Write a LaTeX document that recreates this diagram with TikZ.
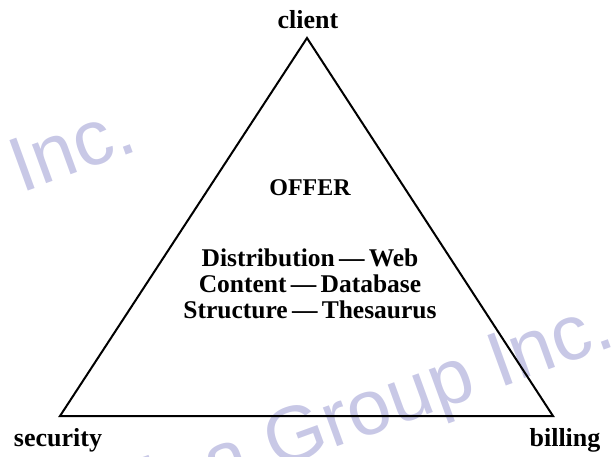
\documentclass[tikz,border=0pt]{standalone}
\usepackage{fontspec}
\setmainfont{Liberation Serif}
\newfontfamily\wmfont{Liberation Sans}
\definecolor{wm}{RGB}{200,200,230}
\begin{document}
\begin{tikzpicture}[x=1pt,y=-1pt,
  lbl/.style={font=\fontsize{26}{30}\selectfont\bfseries, inner sep=0pt},
  wmark/.style={font=\fontsize{78}{86}\selectfont\wmfont, text=wm, rotate=20, inner sep=0pt}]
\useasboundingbox (0,0) rectangle (611,456);
% watermark
\node[wmark, anchor=base east] (wm1) at (140,150) {Idea Group Inc.};
\node[wmark, anchor=base east] (wm2) at (618,345) {Idea Group Inc.};
% triangle
\coordinate (top) at (307,38);
\coordinate (bl) at (60,416);
\coordinate (br) at (553,416);
\draw[line width=2pt, line join=miter] (top) -- (bl) -- (br) -- cycle;
% labels
\node[lbl] (client) at (308,20) {client};
\node[lbl] (security) at (58,440) {security};
\node[lbl] (billing) at (565,440) {billing};
\node[lbl, font=\fontsize{24}{28}\selectfont\bfseries] (offer) at (310,188) {OFFER};
\node[lbl, align=center, font=\fontsize{25.5}{26}\selectfont\bfseries] (body) at (310,284)
  {Distribution\,---\,Web\\Content\,---\,Database\\Structure\,---\,Thesaurus};
\end{tikzpicture}
\end{document}
